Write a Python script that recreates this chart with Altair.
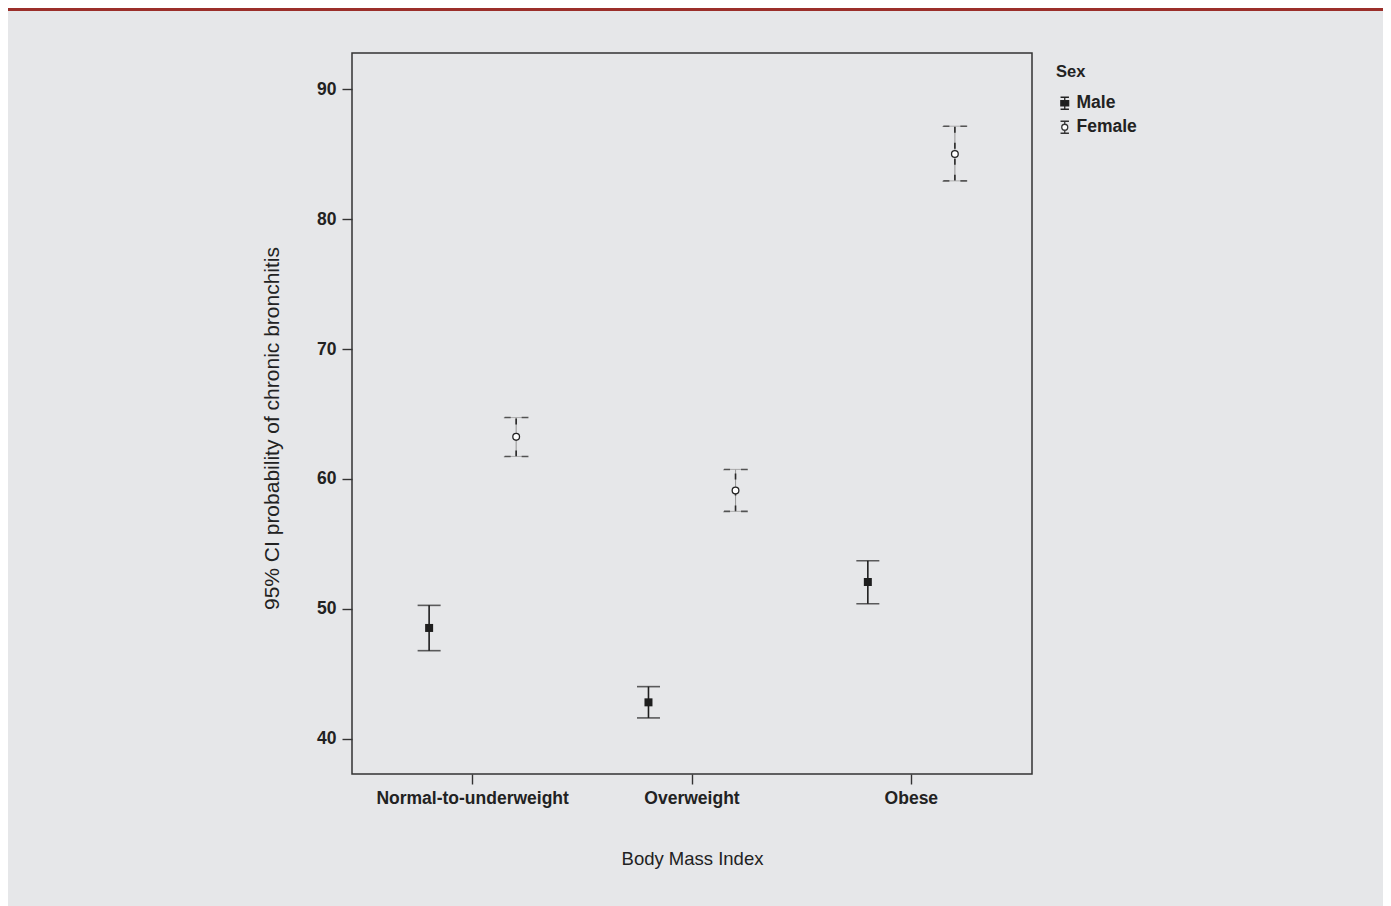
import altair as alt
import pandas as pd

bmi_groups = ["Normal-to-underweight", "Overweight", "Obese"]
sexes = ["Male", "Female"]
male_mean = [48.52, 42.79, 52.06]
male_lower = [46.77, 41.59, 50.39]
male_upper = [50.26, 44.00, 53.70]
female_mean = [63.25, 59.11, 85.03]
female_lower = [61.73, 57.50, 82.96]
female_upper = [64.73, 60.73, 87.17]
y_ticks = [40, 50, 60, 70, 80, 90]
y_domain = [37.27, 92.81]

rows = []
for i, g in enumerate(bmi_groups):
    rows.append(dict(BMI=g, Sex="Male", mean=male_mean[i], lo=male_lower[i], hi=male_upper[i]))
    rows.append(dict(BMI=g, Sex="Female", mean=female_mean[i], lo=female_lower[i], hi=female_upper[i]))
df = pd.DataFrame(rows)

FONT = "Liberation Sans"
INK = "#1e1e1e"
GREY = "#9a9a9a"
W, H = 680, 721

x_axis = alt.Axis(title="Body Mass Index", labelAngle=0, bandPosition=0.5, domain=False,
                  tickSize=10, tickWidth=1.4, tickColor="#333", labelPadding=5, labelLimit=0,
                  labelFont=FONT, labelFontSize=17.5, labelFontWeight="bold", labelColor="#222",
                  titleFont=FONT, titleFontSize=18.5, titleFontWeight="normal", titleColor="#222",
                  titlePadding=43)
y_axis = alt.Axis(title="95% CI probability of chronic bronchitis", values=y_ticks, domain=False,
                  grid=False, tickSize=10, tickWidth=1.4, tickColor="#333", labelPadding=6,
                  labelFont=FONT, labelFontSize=17.5, labelFontWeight="bold", labelColor="#222",
                  titleFont=FONT, titleFontSize=21, titleFontWeight="normal", titleColor="#222",
                  titlePadding=34, titleY=375)

def xe():
    return alt.X("BMI:N", sort=bmi_groups, scale=alt.Scale(paddingInner=0, paddingOuter=0.05), axis=x_axis)

def xo():
    return alt.XOffset("Sex:N", sort=sexes, scale=alt.Scale(domain=sexes, paddingInner=0, paddingOuter=0.26))

def ye(field):
    return alt.Y(f"{field}:Q", scale=alt.Scale(domain=y_domain, nice=False, zero=False), axis=y_axis)

base = alt.Chart(df)
male = base.transform_filter(alt.datum.Sex == "Male")
female = base.transform_filter(alt.datum.Sex == "Female")

male_whisker = male.mark_rule(color=INK, strokeWidth=1.6).encode(x=xe(), xOffset=xo(), y=ye("lo"), y2="hi:Q")
female_whisker = female.mark_rule(color=GREY, strokeWidth=1.1).encode(x=xe(), xOffset=xo(), y=ye("lo"), y2="hi:Q")
female_dash = female.mark_rule(color="#2a2a2a", strokeWidth=1.6, strokeDash=[6, 10]).encode(
    x=xe(), xOffset=xo(), y=ye("lo"), y2="hi:Q")

male_cap_hi = male.mark_tick(color=INK, thickness=1.6, size=23).encode(x=xe(), xOffset=xo(), y=ye("hi"))
male_cap_lo = male.mark_tick(color=INK, thickness=1.6, size=23).encode(x=xe(), xOffset=xo(), y=ye("lo"))
fem_cap_hi = female.mark_tick(color=GREY, thickness=1.1, size=23).encode(x=xe(), xOffset=xo(), y=ye("hi"))
fem_cap_lo = female.mark_tick(color=GREY, thickness=1.1, size=23).encode(x=xe(), xOffset=xo(), y=ye("lo"))
dash_caps = dict(thickness=0.01, size=23, stroke="#2a2a2a", strokeWidth=1.6,
                 strokeDash=[6, 11, 12, 11, 6, 0], fill="#2a2a2a")
fem_capd_hi = female.mark_tick(**dash_caps).encode(x=xe(), xOffset=xo(), y=ye("hi"))
fem_capd_lo = female.mark_tick(**dash_caps).encode(x=xe(), xOffset=xo(), y=ye("lo"))

male_pts = male.mark_point(shape="square", filled=True, color=INK, size=64, opacity=1).encode(
    x=xe(), xOffset=xo(), y=ye("mean"))
female_pts = female.mark_point(shape="circle", filled=True, fill="white", stroke="#222",
                               strokeWidth=1.3, size=45, opacity=1).encode(
    x=xe(), xOffset=xo(), y=ye("mean"))

male_icon = "M-0.7,-1H0.7M0,-1V1M-0.7,1H0.7M-0.65,-0.45H0.65V0.45H-0.65Z"
female_icon = ("M-0.7,-1H0.7M0,-1V-0.5M0,0.5V1M-0.7,1H0.7"
               "M0.5,0A0.5,0.5,0,1,1,-0.5,0A0.5,0.5,0,1,1,0.5,0Z")

def leg():
    return alt.Legend(title="Sex", orient="none", legendX=704, legendY=11,
                      titleFont=FONT, titleFontSize=16.5, titleFontWeight="bold", titleColor="#222",
                      titlePadding=14, labelFont=FONT, labelFontSize=17.5, labelFontWeight="bold",
                      labelColor="#222", labelOffset=3, rowPadding=5, symbolSize=144,
                      symbolStrokeWidth=1.3, symbolOpacity=1)

# legend carrier: no rows drawn, the legend entries come from the explicit scale domains
legend_layer = base.transform_filter("false").mark_point(filled=False, opacity=1, strokeWidth=1.3).encode(
    x=xe(), xOffset=xo(), y=ye("mean"),
    shape=alt.Shape("Sex:N", sort=sexes, scale=alt.Scale(domain=sexes, range=[male_icon, female_icon]),
                    legend=leg()),
    fill=alt.Fill("Sex:N", sort=sexes, scale=alt.Scale(domain=sexes, range=[INK, "white"]),
                  legend=leg()),
    stroke=alt.Stroke("Sex:N", sort=sexes, scale=alt.Scale(domain=sexes, range=["#222222", "#333333"]),
                      legend=leg()),
)

stripe = alt.Chart(pd.DataFrame({"v": [0]})).mark_rule(color="#9b2f2a", strokeWidth=3).encode(
    x=alt.value(-344), x2=alt.value(1031), y=alt.value(-43.5))

chart = alt.layer(
    female_whisker, female_dash, fem_cap_hi, fem_cap_lo, fem_capd_hi, fem_capd_lo,
    male_whisker, male_cap_hi, male_cap_lo, male_pts, female_pts, legend_layer, stripe
).properties(
    width=W, height=H,
    autosize=alt.AutoSizeParams(type="none"),
    padding={"left": 344, "top": 45, "right": 351, "bottom": 132},
    background="#e6e7e9",
).configure_view(stroke="#333", strokeWidth=1.5, fill=None)

chart.save("out.html", embed_options={"renderer": "svg", "actions": False})
